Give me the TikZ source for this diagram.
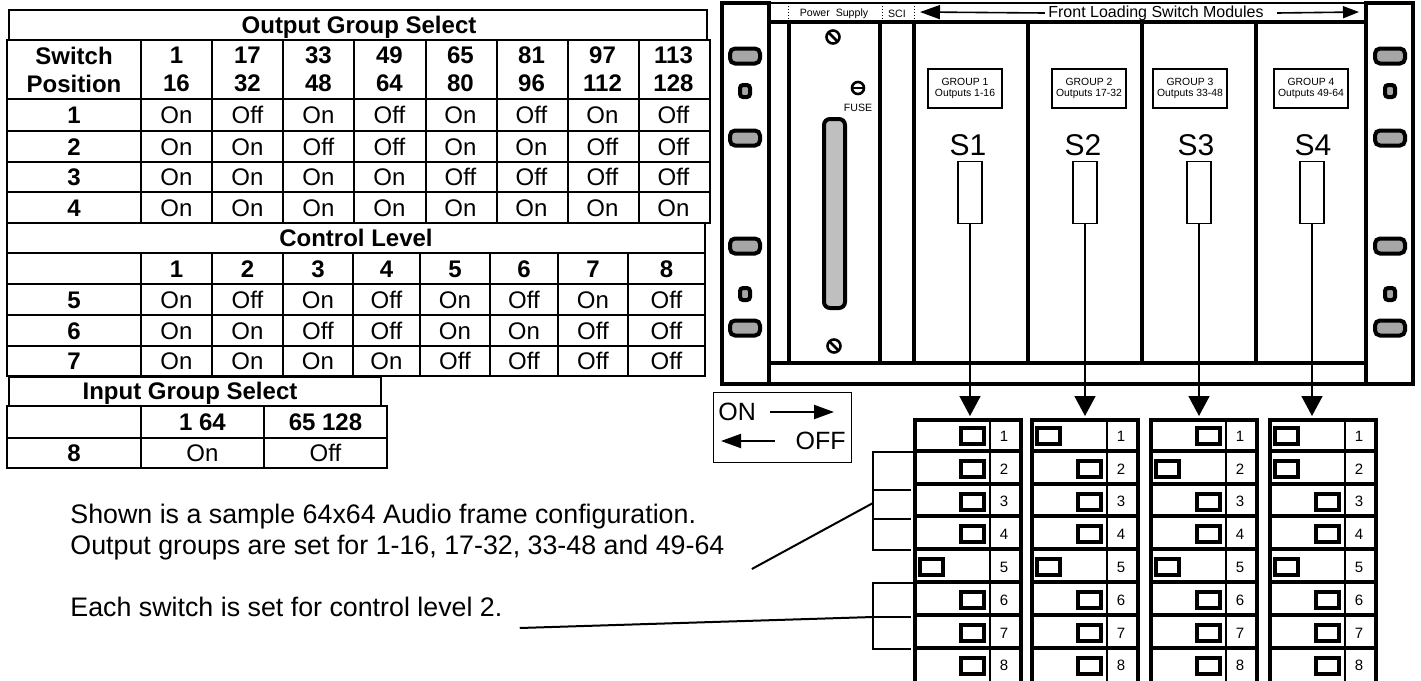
\documentclass[tikz,border=0pt]{standalone}
\usepackage{fontspec}
\setmainfont{Liberation Sans}
\usetikzlibrary{arrows.meta,positioning}

\definecolor{handlegray}{HTML}{A6A6A6}
\definecolor{fusegray}{HTML}{BFBFBF}

\tikzset{
  tab/.style={line width=1pt},
  tcell/.style={inner sep=0pt, text height=8.6pt, text depth=0pt, font=\fontsize{12}{14}\selectfont},
  thead/.style={inner sep=0pt, align=center, font=\fontsize{12}{14}\selectfont\bfseries},
  tnum/.style={inner sep=0pt, text height=8.6pt, text depth=0pt, font=\fontsize{12}{14}\selectfont\bfseries},
  rack/.style={line width=2pt},
  handle/.style={line width=2pt, fill=handlegray, rounded corners=2.5pt},
  strip/.style={inner sep=0pt, font=\fontsize{5.3}{6}\selectfont},
  grpbox/.style={draw, line width=1pt, align=center, minimum width=37pt, minimum height=19.5pt, inner sep=1.5pt, font=\fontsize{5.2}{5.8}\selectfont},
  slabel/.style={inner sep=0pt, font=\fontsize{15}{18}\selectfont},
  slider/.style={draw, line width=0.8pt, minimum width=12pt, minimum height=31pt, inner sep=0pt},
  feed/.style={line width=0.8pt, -{Triangle[length=10pt, width=10.5pt]}},
  dipframe/.style={line width=2.3pt},
  dipsep/.style={line width=2pt},
  knob/.style={draw, line width=2pt, fill=white, minimum width=11.5pt, minimum height=8pt, inner sep=0pt},
  dipnum/.style={inner sep=0pt, text height=5.4pt, text depth=0pt, font=\fontsize{7.5}{9}\selectfont},
  legtext/.style={inner sep=1pt, font=\fontsize{12.5}{15}\selectfont},
  legarr/.style={line width=1pt, -{Triangle[length=10pt, width=7pt]}},
  brace/.style={line width=1pt},
  note/.style={inner sep=0pt, anchor=west, font=\fontsize{13.4}{16}\selectfont},
}

\begin{document}
\begin{tikzpicture}[x=0.5pt, y=-0.5pt]
    \useasboundingbox (0,0) rectangle (1421,681);

    % output group select
    \draw[tab] (9,10) rectangle (707,40);
    \node[tnum] (ogs) at (359,25) {Output Group Select};
    \draw[tab] (7,40) rectangle (710,223);
    \foreach \y in {99,131,162,192} \draw[tab] (7,\y) -- (710,\y);
    \foreach \x in {141,212,283,354,426,497,568,639} \draw[tab] (\x,40) -- (\x,223);
    \node[thead] (swpos) at (74,69.5) {Switch\\Position};
    \foreach \y [count=\r] in {115,146.5,177,207.5} \node[tnum] (p\r) at (74,\y) {\r};
    \foreach \lo/\hi/\a/\b/\c/\d [count=\i] in {1/16/On/On/On/On, 17/32/Off/On/On/On,
        33/48/On/Off/On/On, 49/64/Off/Off/On/On, 65/80/On/On/Off/On,
        81/96/Off/On/Off/On, 97/112/On/Off/Off/On, 113/128/Off/Off/Off/On}
    {
        \node[thead] (og\i) at ({105.5+71*\i},69.5) {\lo\\\hi};
        \node[tcell] (o1-\i) at ({105.5+71*\i},115) {\a};
        \node[tcell] (o2-\i) at ({105.5+71*\i},146.5) {\b};
        \node[tcell] (o3-\i) at ({105.5+71*\i},177) {\c};
        \node[tcell] (o4-\i) at ({105.5+71*\i},207.5) {\d};
    }

    % control level
    \draw[tab] (7,223) rectangle (705,376);
    \node[tnum] (ctl) at (356,238) {Control Level};
    \foreach \y in {253,284,315,346} \draw[tab] (7,\y) -- (705,\y);
    \foreach \x in {141,212,283,353,420,490,558,628} \draw[tab] (\x,253) -- (\x,376);
    \foreach \y [count=\r from 5] in {299.5,330.5,361} \node[tnum] (p\r) at (74,\y) {\r};
    \foreach \x/\a/\b/\c [count=\i] in {176.5/On/On/On, 247.5/Off/On/On, 318/On/Off/On,
        386.5/Off/Off/On, 455/On/On/Off, 524/Off/On/Off, 593/On/Off/Off, 666.5/Off/Off/Off}
    {
        \node[tnum] (cl\i) at (\x,268.5) {\i};
        \node[tcell] (c5-\i) at (\x,299.5) {\a};
        \node[tcell] (c6-\i) at (\x,330.5) {\b};
        \node[tcell] (c7-\i) at (\x,361) {\c};
    }

    % input group select
    \draw[tab] (9,377) rectangle (381,406);
    \node[tnum] (igs) at (190,390.5) {Input Group Select};
    \draw[tab] (7,406) rectangle (387,468);
    \draw[tab] (7,438) -- (387,438);
    \foreach \x in {141,264} \draw[tab] (\x,406) -- (\x,468);
    \node[tnum] (ig1) at (202.5,422) {1 64};
    \node[tnum] (ig2) at (325.5,422) {65 128};
    \node[tnum] (p8) at (74,453) {8};
    \node[tcell] (i8-1) at (202.5,453) {On};
    \node[tcell] (i8-2) at (325.5,453) {Off};

    % rack frame
    \draw[rack] (722,3) rectangle (769,384);
    \draw[rack] (1366,3) rectangle (1413,384);
    \draw[line width=1pt] (769,3) -- (1366,3);
    \draw[rack] (769,22) -- (1366,22);
    \draw[rack] (769,363) -- (1366,363);
    \draw[rack] (769,384) -- (1366,384);
    \foreach \x in {789,880,914,1028,1142,1256} \draw[line width=2.2pt] (\x,22) -- (\x,363);
    \foreach \x in {788,882,914} \draw[densely dotted, line width=0.5pt] (\x,3) -- (\x,22);
    \node[strip] (ps) at (834,14) {Power\ \ Supply};
    \node[strip] (sci) at (897,14) {SCI};
    \node[inner sep=1.5pt, font=\fontsize{8}{9}\selectfont] (front) at (1156,13) {Front Loading Switch Modules};
    \coordinate (frontL) at (920,12);
    \coordinate (frontR) at (1359,12);
    \draw[line width=0.8pt, -{Triangle[length=10pt, width=7pt]}] (front.west) -- (frontL);
    \draw[line width=0.8pt, -{Triangle[length=8pt, width=6pt]}] ([xshift=5pt]front.east) -- (frontR);

    % handles on the ears
    \foreach \x in {745,1390} {
        \foreach \y in {56,138,246,328} \draw[handle] (\x-15,\y-7.5) rectangle (\x+15,\y+7.5);
        \foreach \y in {91,294} \draw[handle, rounded corners=1.5pt] (\x-5,\y-6) rectangle (\x+5,\y+6);
    }

    % power supply
    \draw[line width=2pt, fill=fusegray, rounded corners=3pt] (824,119) rectangle (845,308);
    \draw[line width=1.3pt] (833,37) circle (6.5);
    \draw[line width=1.3pt] (829,33) -- (837,41);
    \draw[line width=1.3pt] (834,346) circle (6.5);
    \draw[line width=1.3pt] (830,342) -- (838,350);
    \draw[line width=1.3pt] (858,88) circle (6);
    \draw[line width=1.3pt] (852,88) -- (864,88);
    \node[strip] (fuse) at (858,108) {FUSE};

    % switch modules
    \foreach \gx/\sx/\mx/\lo/\hi [count=\j] in {965/968/970/1/16, 1089/1083/1085/17/32,
        1190/1196/1199/33/48, 1311/1313/1312/49/64}
    {
        \node[grpbox] (g\j) at (\gx,88.5) {GROUP \j\\Outputs \lo-\hi};
        \node[slabel] (s\j) at (\sx,145) {S\j};
        \node[slider] (sl\j) at (\mx,192.5) {};
        \coordinate (t\j) at (\mx,416);
        \draw[feed] (sl\j.south) -- (t\j);
    }

    % dip switches
    \foreach \bx in {913,1030,1149,1268} {
        \draw[dipframe] (\bx+2,681) -- (\bx+2,420) -- (\bx+108,420) -- (\bx+108,681);
        \foreach \k in {1,...,7} \draw[dipsep] (\bx,{418+32.8*\k}) -- (\bx+110,{418+32.8*\k});
        \draw[line width=0.8pt] (\bx+77,420) -- (\bx+77,681);
    }
    \foreach \a/\b/\c/\d [count=\r] in {1/0/1/0, 1/1/0/0, 1/1/1/1, 1/1/1/1,
        0/0/0/0, 1/1/1/1, 1/1/1/1, 1/1/1/1}
    {
        \foreach \s/\bx [count=\j] in {\a/913, \b/1030, \c/1149, \d/1268} {
            \node[knob] (k\j-\r) at ({\bx+18.5+41*\s},{418+32.8*(\r-0.5)+1.5}) {};
            \node[dipnum] (n\j-\r) at ({\bx+91},{418+32.8*(\r-0.5)+1.5}) {\r};
        }
    }

    % on / off legend
    \node[draw, line width=0.75pt, minimum width=69pt, minimum height=35pt, inner sep=0pt] (legend) at (782.5,427.5) {};
    \node[legtext, anchor=west] (on) at (716,412) {ON};
    \node[legtext, anchor=east] (off) at (848,441) {OFF};
    \coordinate (onend) at (834,412);
    \coordinate (offend) at (721,441);
    \draw[legarr] ([xshift=6pt]on.east) -- (onend);
    \draw[legarr] ([xshift=-9pt]off.west) -- (offend);

    % brackets
    \draw[brace] (913,452) -- (873,452) -- (873,550) -- (911,550);
    \draw[brace] (873,490) -- (911,490);
    \draw[brace] (873,519) -- (911,519);
    \draw[brace] (913,583) -- (873,583) -- (873,649) -- (911,649);
    \draw[brace] (873,617) -- (911,617);
    \coordinate (br1) at (873,503);
    \coordinate (br2) at (873,617);

    % notes
    \node[note] (shown) at (70,517) {Shown is a sample 64x64 Audio frame configuration.};
    \node[note] (groups) at (70,548) {Output groups are set for 1-16, 17-32, 33-48 and 49-64};
    \node[note] (each) at (70,607) {Each switch is set for control level 2.};
    \draw[brace] ([shift={(27,21)}]groups.east) -- (br1);
    \draw[brace] ([shift={(17,21)}]each.east) -- (br2);

\end{tikzpicture}
\end{document}
